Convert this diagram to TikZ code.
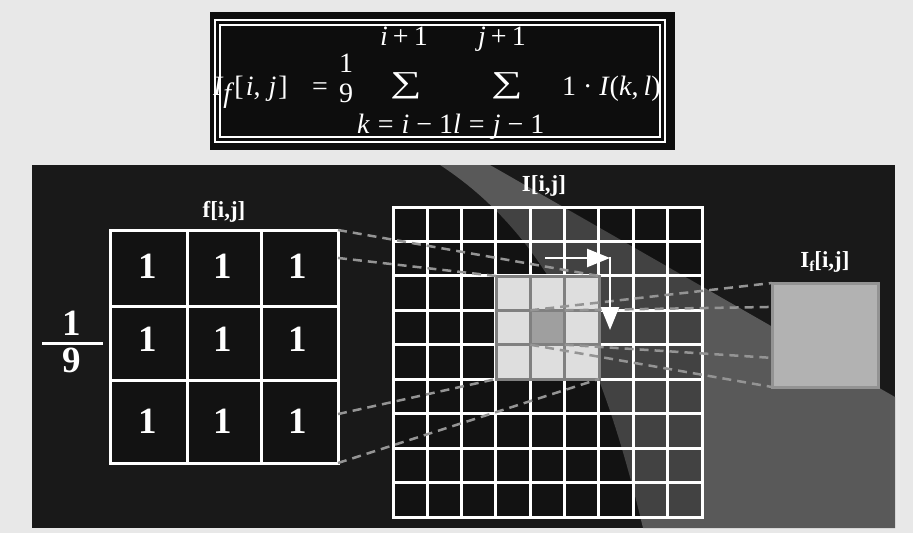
\documentclass[tikz,border=0pt]{standalone}
\usepackage{fontspec}
\setmainfont{Liberation Serif}
\usetikzlibrary{arrows.meta,calc,positioning}

\definecolor{paper}{gray}{0.91}
\definecolor{panel}{gray}{0.10}
\definecolor{beam}{gray}{0.35}
\definecolor{hilite}{gray}{0.87}
\definecolor{dashgray}{gray}{0.58}

\begin{document}
\begin{tikzpicture}[x=1pt,y=-1pt,
every node/.style={inner sep=0pt, outer sep=0pt},
    one/.style = {text=white, font=\fontsize{37}{37}\selectfont\bfseries},
    lbl/.style = {text=white, font=\fontsize{23}{23}\selectfont\bfseries},
    fml/.style = {text=white, font=\fontsize{28}{28}\selectfont},
    sig/.style = {text=white, font=\fontsize{38}{38}\selectfont},
    gridline/.style = {draw=white, line width=3pt},
    proj/.style = {draw=dashgray, line width=2.5pt, dash pattern=on 9pt off 6pt},
    move/.style = {draw=white, line width=2.5pt, -{Triangle[length=23pt,width=18pt]}}
    ]
% background and panels
\fill[paper] (0,0) rectangle (913,533);
\fill[black!95] (210,12) rectangle (675,150);
\fill[panel] (32,165) rectangle (895,528);
\fill[beam] (440,165) .. controls (555,240) and (605,370) .. (643,528)
    -- (895,528) -- (895,397) -- (490,165) -- cycle;

%% formula
\node[fml, anchor=base west] (lhs) at (213,95)
    {\textit{I}\raisebox{-7pt}{\textit{f}}[\hspace{2pt}\textit{i},\hspace{8pt}\textit{j}\hspace{2pt}]};
\node[fml, anchor=base] (eq) at (320,95) {=};
\node[fml, anchor=base] (num) at (346,72) {1};
\node[fml, anchor=base] (den) at (346,102) {9};
\node[sig] (sumk) at (406,86) {\scalebox{1.15}[0.8]{∑}};
\node[sig] (suml) at (507,86) {\scalebox{1.15}[0.8]{∑}};
\node[fml, anchor=base] (topk) at (404,45) {\textit{i}\hspace{5pt}+\hspace{5pt}1};
\node[fml, anchor=base] (topl) at (502,45) {\textit{j}\hspace{5pt}+\hspace{5pt}1};
\node[fml, anchor=base west] (term) at (562,95)
    {1\hspace{7pt}·\hspace{7pt}\textit{I}(\textit{k},\hspace{5pt}\textit{l})};
\node[fml, anchor=base west] (low) at (357,133)
    {\textit{k}\hspace{8pt}=\hspace{8pt}\textit{i}\hspace{7pt}−\hspace{7pt}1\textit{l}\hspace{8pt}=\hspace{8pt}\textit{j}\hspace{7pt}−\hspace{7pt}1};
\draw[white, line width=1.5pt] (215,20) rectangle (665,142);
\draw[white, line width=1.5pt] (220,25) rectangle (660,137);

%% kernel f
\node (fgrid) [fill=black, fill opacity=0.25, draw=white, draw opacity=1,
               line width=3pt, minimum width=228, minimum height=233] at (224,346.5) {};
\foreach \x in {187,261}
    \draw[gridline] (\x,230) -- (\x,463);
\foreach \y in {306,380}
    \draw[gridline] (110,\y) -- (338,\y);
\foreach \c/\x in {1/148,2/223,3/298}
    \foreach \r/\y in {1/266,2/339,3/421}
        \node[one] (f\r\c) at (\x,\y) {1};
\node[one] (fnum) at (72,323) {1};
\node[fill=white, minimum width=61, minimum height=3] (fbar) at (72.5,343) {};
\node[one] (fden) at (72,360) {9};
\node[lbl] (flab) at (224,212) {f[i,j]};

%% image I
\node (igrid) [fill=black, fill opacity=0.25, draw=white, draw opacity=1,
               line width=3pt, minimum width=309, minimum height=310] at (547.5,362) {};
\foreach \k in {1,...,8} {
    \draw[gridline] (393+\k*34.33,207) -- (393+\k*34.33,517);
    \draw[gridline] (393,207+\k*34.44) -- (702,207+\k*34.44);
}
\node (hl) [fill=hilite, draw=gray, line width=3pt,
            minimum width=103, minimum height=103] at (547.5,327.5) {};
\draw[gray, line width=3pt] (530.3,276) -- (530.3,379) (564.7,276) -- (564.7,379)
    (496,310.3) -- (599,310.3) (496,344.8) -- (599,344.8);
\node (ctr) [fill=gray!75, draw=gray, line width=3pt,
             minimum width=34.4, minimum height=34.4] at (547.5,327.5) {};
\node[lbl] (ilab) at (544,186) {I[i,j]};

%% output If
\node (out) [fill=gray!60, draw=gray!85, line width=3pt,
             minimum width=106, minimum height=104] at (825,335) {};
\node[lbl] (olab) at (825,262) {I\raisebox{-4pt}{\fontsize{15}{15}\selectfont f}[i,j]};

% projections
\coordinate (fB) at ($(fgrid.north east)!0.12!(fgrid.south east)$);
\coordinate (fC) at ($(fgrid.north east)!0.79!(fgrid.south east)$);
\draw[proj] (fgrid.north east) -- (hl.north east);
\draw[proj] (fB) -- (hl.north west);
\draw[proj] (fC) -- (hl.south west);
\draw[proj] (fgrid.south east) -- (hl.south east);
\draw[proj] (ctr.north west) -- (out.north west);
\draw[proj] (ctr.north east) -- ($(out.north west)!0.23!(out.south west)$);
\draw[proj] (ctr.south east) -- ($(out.north west)!0.72!(out.south west)$);
\draw[proj] (ctr.south west) -- (out.south west);

% scan direction
\coordinate (mstart) at (545,258);
\coordinate (turn) at (610,258);
\coordinate (mend) at (610,330);
\draw[move] (mstart) -- (turn);
\draw[move, shorten <=-1.25pt] (turn) -- (mend);
\end{tikzpicture}
\end{document}
